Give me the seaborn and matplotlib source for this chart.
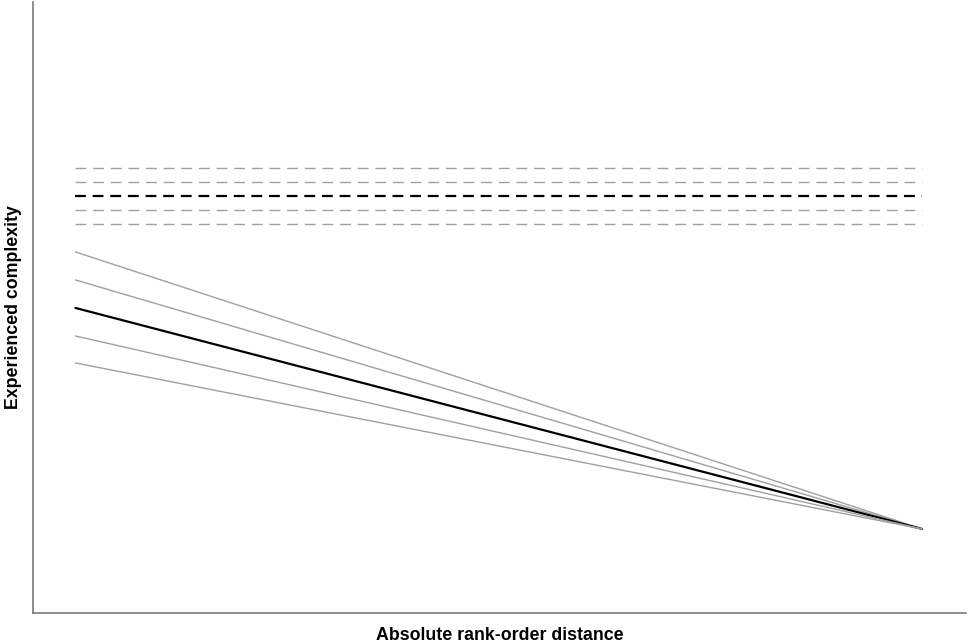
import pandas as pd
import matplotlib.pyplot as plt
import seaborn as sns

# rank-order distance: start and end of the plotted range
distance = [0.0, 1.0]

# solid lines: complexity at the start, all meet at the same end value
slope_start = [3.61, 3.33, 3.05, 2.77, 2.50]
slope_end = 0.84

# dashed lines: flat level (mean with bands around it)
flat_level = [4.45, 4.31, 4.17, 4.03, 3.89]

# the middle line of each group is the estimate, the others are bands
main_idx = 2

sns.set_style("white")
plt.rcParams['font.family'] = ['Liberation Sans', 'DejaVu Sans']
plt.rcParams['lines.scale_dashes'] = False

fig = plt.figure(figsize=(9.68, 6.43), dpi=100)
ax = fig.add_axes([0.0346, 0.0467, 0.9634, 0.9503])

for i, (s, f) in enumerate(zip(slope_start, flat_level)):
    is_main = i == main_idx
    color = 'black' if is_main else '#a0a0a0'
    lw = 1.6 if is_main else 1.0

    df_solid = pd.DataFrame({'x': distance, 'y': [s, slope_end]})
    sns.lineplot(data=df_solid, x='x', y='y', ax=ax, color=color, linewidth=lw)

    df_flat = pd.DataFrame({'x': distance, 'y': [f, f]})
    sns.lineplot(data=df_flat, x='x', y='y', ax=ax, color=color,
                 linewidth=lw, dashes=False, linestyle=(0, (7.8, 4.9)))

ax.set_xlim(-0.0496, 1.052)
ax.set_ylim(0, 6.11)
ax.set_xticks([])
ax.set_yticks([])

for side in ['top', 'right']:
    ax.spines[side].set_visible(False)
for side in ['left', 'bottom']:
    ax.spines[side].set_color('#6e6e6e')
    ax.spines[side].set_linewidth(1.1)

ax.set_xlabel('Absolute rank-order distance', fontsize=12.8, fontweight='bold',
              color='black', labelpad=10)
ax.set_ylabel('Experienced complexity', fontsize=12.8, fontweight='bold',
              color='black', labelpad=8)

fig.savefig('out.png', dpi=100)
